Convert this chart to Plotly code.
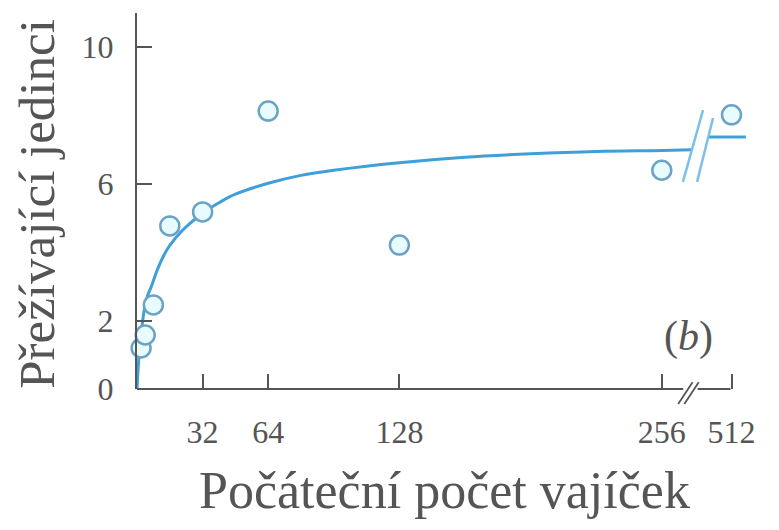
import plotly.graph_objects as go

# ---------------- data ----------------
eggs = [2, 4, 8, 16, 32, 64, 128, 256, 512]
survivors = [1.2, 1.58, 2.46, 4.77, 5.18, 8.13, 4.21, 6.4, 8.02]

fit_x = [0, 1, 2, 3.5, 5, 7, 10, 13, 16, 21.5, 26, 32, 40, 48, 64, 80, 96,
         128, 160, 192, 224, 256, 270.7]
fit_y = [0, 1.0, 1.6, 2.3, 2.7, 3.0, 3.5, 3.9, 4.2, 4.6, 4.85, 5.15, 5.45,
         5.7, 6.02, 6.25, 6.4, 6.62, 6.78, 6.88, 6.95, 6.98, 7.0]
fit_tail_y = 7.37          # asymptote drawn beyond the axis break

x_ticks = [32, 64, 128, 256, 512]
x_tick_labels = ["32", "64", "128", "256", "512"]
y_ticks = [0, 2, 6, 10]
y_tick_labels = ["0", "2", "6", "10"]

# ---------------- broken x axis: values beyond the break ----------------
BREAK_AT = 272           # last value drawn on the linear part
BROKEN_POS = {512: 290}  # display position of values after the break


def disp(v):
    return BROKEN_POS.get(v, v) if v > BREAK_AT else v


TEXT = "#555555"
BLUE = "#3f9fd8"
FONT = "Liberation Serif"

fig = go.Figure()

# fitted curve, linear part
fig.add_trace(go.Scatter(x=fit_x, y=fit_y, mode="lines",
                         line=dict(color=BLUE, width=3, shape="spline"),
                         hoverinfo="skip", showlegend=False))
# fitted curve after the break
fig.add_trace(go.Scatter(x=[278.7, 297], y=[fit_tail_y, fit_tail_y], mode="lines",
                         line=dict(color=BLUE, width=3),
                         hoverinfo="skip", showlegend=False, cliponaxis=False))
# observed points
fig.add_trace(go.Scatter(x=[disp(v) for v in eggs], y=survivors, mode="markers",
                         marker=dict(symbol="circle", size=19, color="#e8fcff",
                                     line=dict(color="#6ba3c6", width=2.5)),
                         cliponaxis=False, showlegend=False))

shapes = []
# x axis line with a break (y in paper units so it is not clipped)
shapes.append(dict(type="line", x0=0, x1=266.5, y0=0, y1=0, xref="x", yref="paper",
                   line=dict(color=TEXT, width=2)))
shapes.append(dict(type="line", x0=273.5, x1=BROKEN_POS[512] - 0.5, y0=0, y1=0,
                   xref="x", yref="paper", line=dict(color=TEXT, width=2)))
for dx in (0, 3):
    shapes.append(dict(type="line", x0=264 + dx, x1=271 + dx, y0=-0.04, y1=0.018,
                       xref="x", yref="paper", line=dict(color=TEXT, width=1.8)))
# break marks on the curve
shapes.append(dict(type="line", x0=266.3, x1=276.1, y0=6.06, y1=8.16,
                   xref="x", yref="y", line=dict(color="#7cc0ea", width=2.5)))
shapes.append(dict(type="line", x0=273.2, x1=281.0, y0=6.06, y1=7.93,
                   xref="x", yref="y", line=dict(color="#7cc0ea", width=2.5)))

annotations = [
    dict(text="Počáteční počet vajíček", xref="paper", yref="paper",
         x=0.5, y=-0.269, xanchor="center", yanchor="middle", showarrow=False,
         font=dict(family=FONT, size=52, color=TEXT)),
    dict(text="Přežívající jedinci", xref="paper", yref="paper",
         x=-0.163, y=0.492, xanchor="center", yanchor="middle", showarrow=False,
         textangle=-90, font=dict(family=FONT, size=51, color=TEXT)),
    dict(text="(<i>b</i>)", xref="x", yref="y", x=269, y=1.55,
         xanchor="center", yanchor="middle", showarrow=False,
         font=dict(family=FONT, size=42, color=TEXT)),
]

fig.update_layout(
    width=779, height=530,
    margin=dict(l=129, r=35, t=5, b=149),
    paper_bgcolor="white", plot_bgcolor="white",
    shapes=shapes, annotations=annotations,
    showlegend=False,
    xaxis=dict(range=[0, 300], showgrid=False, zeroline=False, showline=False,
               tickvals=[disp(v) for v in x_ticks], ticktext=x_tick_labels,
               ticks="inside", ticklen=15, tickwidth=1.5, tickcolor=TEXT,
               ticklabelstandoff=21,
               tickfont=dict(family=FONT, size=32, color=TEXT)),
    yaxis=dict(range=[0, 11], showgrid=False, zeroline=False, showline=True,
               linecolor=TEXT, linewidth=2,
               tickvals=y_ticks, ticktext=y_tick_labels,
               ticks="inside", ticklen=15, tickwidth=1.5, tickcolor=TEXT,
               ticklabelstandoff=15,
               tickfont=dict(family=FONT, size=32, color=TEXT)),
)

fig.write_html("out.html")
